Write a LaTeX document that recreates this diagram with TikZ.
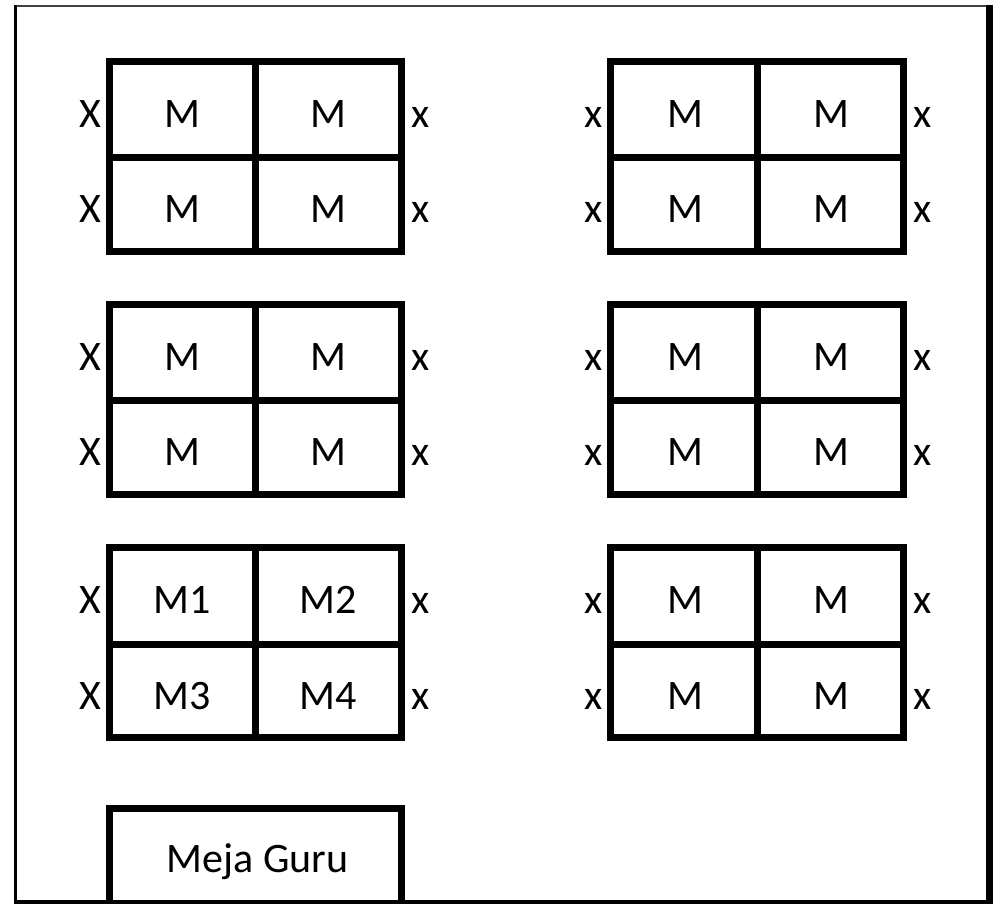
\documentclass[tikz,border=0pt]{standalone}
\usepackage{fontspec}
\setmainfont{Carlito}
\begin{document}
\begin{tikzpicture}[x=0.5pt,y=-0.5pt,
    meja/.style={line width=3.5pt},
    teks/.style={font=\fontsize{21}{25}\selectfont, inner sep=0pt, anchor=base}]
        \useasboundingbox (0,0) rectangle (998,904);

        % Dinding kelas
        \draw[line width=1pt, black!75] (14,6.5) -- (989,6.5);
        \draw[line width=1.5pt] (15,5.5) -- (15,903);
        \draw[line width=3.5pt] (989,5.5) -- (989,904);
        \draw[line width=2pt] (14,902) -- (992,902);

        % Meja siswa kiri
        \foreach \y/\r/\a/\b/\c/\d in {61.5/1/M/M/M/M, 304.5/2/M/M/M/M, 547.5/3/M1/M2/M3/M4} {
            \draw[meja] (109.5,\y) rectangle ++(292,190);
            \draw[meja] (255.5,\y) -- ++(0,190);
            \draw[meja] (109.5,\y+96.5) -- ++(292,0);
            \node[teks] (kiri-\r-a) at (182.5,\y+66) {\a};
            \node[teks] (kiri-\r-b) at (328.5,\y+66) {\b};
            \node[teks] (kiri-\r-c) at (182.5,\y+161.5) {\c};
            \node[teks] (kiri-\r-d) at (328.5,\y+161.5) {\d};
            \node[teks, anchor=base east] (kiri-\r-xa) at (102,\y+66) {X};
            \node[teks, anchor=base east] (kiri-\r-xb) at (102,\y+161.5) {X};
            \node[teks, anchor=base west] (kiri-\r-xc) at (411.5,\y+66) {x};
            \node[teks, anchor=base west] (kiri-\r-xd) at (411.5,\y+161.5) {x};
        }

        % Meja siswa kanan
        \foreach \y/\r in {61.5/1, 304.5/2, 547.5/3} {
            \draw[meja] (610.5,\y) rectangle ++(293,190);
            \draw[meja] (757,\y) -- ++(0,190);
            \draw[meja] (610.5,\y+96.5) -- ++(293,0);
            \node[teks] (kanan-\r-a) at (685,\y+66) {M};
            \node[teks] (kanan-\r-b) at (831,\y+66) {M};
            \node[teks] (kanan-\r-c) at (685,\y+161.5) {M};
            \node[teks] (kanan-\r-d) at (831,\y+161.5) {M};
            \node[teks, anchor=base east] (kanan-\r-xa) at (603,\y+66) {x};
            \node[teks, anchor=base east] (kanan-\r-xb) at (603,\y+161.5) {x};
            \node[teks, anchor=base west] (kanan-\r-xc) at (913,\y+66) {x};
            \node[teks, anchor=base west] (kanan-\r-xd) at (913,\y+161.5) {x};
        }

        % Meja guru
        \draw[meja] (109.5,902) |- (401.5,808.5) -- (401.5,902);
        \node[teks] (guru) at (257.5,872) {Meja Guru};
    \end{tikzpicture}
\end{document}
